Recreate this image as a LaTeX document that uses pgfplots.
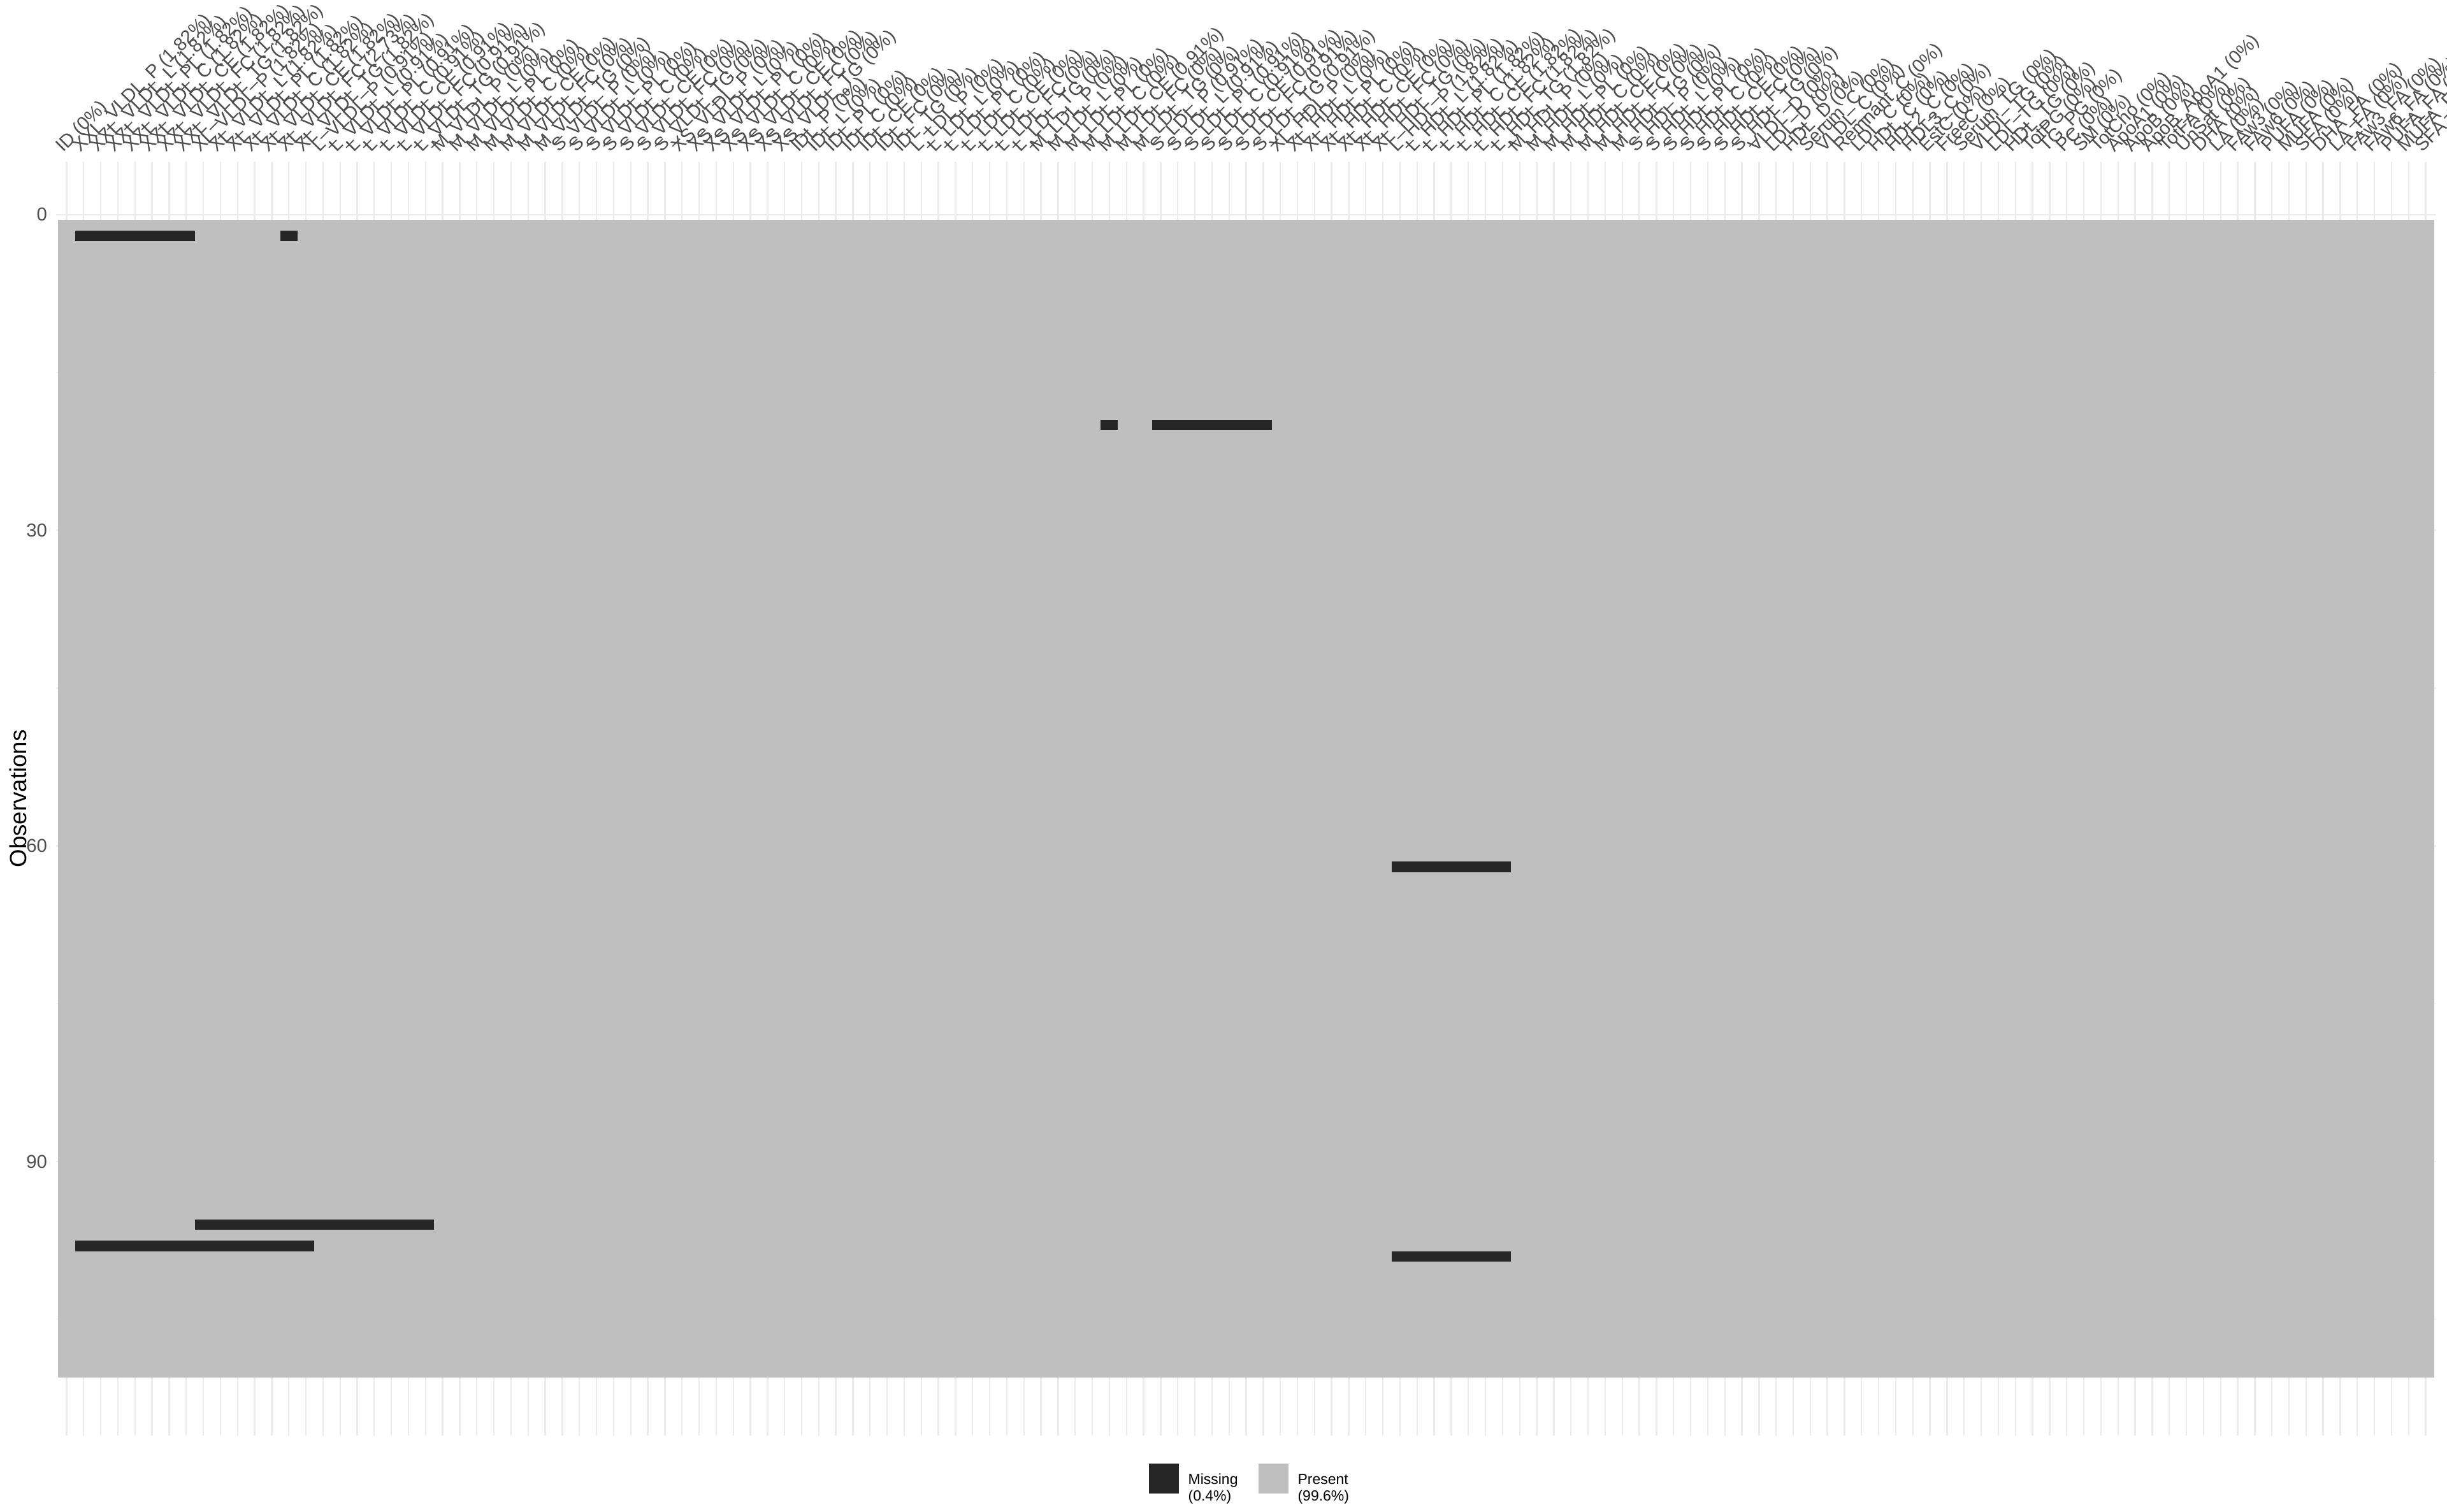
\documentclass[border=0pt]{standalone}
\usepackage{fontspec}
\setmainfont{Liberation Sans}
\usepackage{pgfplots}
\pgfplotsset{compat=1.18}
\definecolor{miss}{HTML}{262626}
\definecolor{pres}{HTML}{BFBFBF}
\definecolor{gridc}{HTML}{EBEBEB}
\definecolor{tickc}{HTML}{4D4D4D}
\begin{document}
\begin{tikzpicture}
\useasboundingbox (0,0) rectangle (1152bp,711.9bp);
\begin{axis}[
  at={(26.5bp,36.15bp)}, anchor=south west,
  scale only axis, width=1120.3bp, height=599.5bp,
  xmin=0.4, xmax=139.6, ymin=-5, ymax=116,
  y dir=reverse,
  axis line style={draw=none},
  major tick length=0pt, minor tick length=0pt,
  tick style={draw=none},
  xmajorgrids, ymajorgrids, yminorgrids,
  major grid style={draw=gridc, line width=0.7bp},
  minor grid style={draw=gridc, line width=0.35bp},
  xtick={1,...,139},
  ytick={0,30,60,90},
  minor ytick={15,45,75,105},
  xticklabel pos=right,
  /pgf/number format/assume math mode=true,
  tick label style={font=\fontsize{8.8bp}{10bp}\selectfont, text=tickc},
  xticklabel style={inner sep=0pt, xshift=-0.2bp, yshift=2.7bp, rotate=45, anchor=south west},
  yticklabel style={inner sep=0pt, anchor=east, xshift=-4.1bp},
  ylabel={Observations},
  every axis y label/.style={at={(axis description cs:0,0.5)}, xshift=-18.1bp, rotate=90, anchor=center, font=\fontsize{11bp}{13bp}\selectfont, text=black},
  xticklabels={
    ID (0\%),
    XXL\_VLDL\_P (1.82\%), XXL\_VLDL\_L (1.82\%), XXL\_VLDL\_PL (1.82\%), XXL\_VLDL\_C (1.82\%), XXL\_VLDL\_CE (1.82\%), XXL\_VLDL\_FC (1.82\%), XXL\_VLDL\_TG (1.82\%),
    XL\_VLDL\_P (1.82\%), XL\_VLDL\_L (1.82\%), XL\_VLDL\_PL (1.82\%), XL\_VLDL\_C (1.82\%), XL\_VLDL\_CE (1.82\%), XL\_VLDL\_FC (2.73\%), XL\_VLDL\_TG (1.82\%),
    L\_VLDL\_P (0.91\%), L\_VLDL\_L (0.91\%), L\_VLDL\_PL (0.91\%), L\_VLDL\_C (0.91\%), L\_VLDL\_CE (0.91\%), L\_VLDL\_FC (0.91\%), L\_VLDL\_TG (0.91\%),
    M\_VLDL\_P (0\%), M\_VLDL\_L (0\%), M\_VLDL\_PL (0\%), M\_VLDL\_C (0\%), M\_VLDL\_CE (0\%), M\_VLDL\_FC (0\%), M\_VLDL\_TG (0\%),
    S\_VLDL\_P (0\%), S\_VLDL\_L (0\%), S\_VLDL\_PL (0\%), S\_VLDL\_C (0\%), S\_VLDL\_CE (0\%), S\_VLDL\_FC (0\%), S\_VLDL\_TG (0\%),
    XS\_VLDL\_P (0\%), XS\_VLDL\_L (0\%), XS\_VLDL\_PL (0\%), XS\_VLDL\_C (0\%), XS\_VLDL\_CE (0\%), XS\_VLDL\_FC (0\%), XS\_VLDL\_TG (0\%),
    IDL\_P (0\%), IDL\_L (0\%), IDL\_PL (0\%), IDL\_C (0\%), IDL\_CE (0\%), IDL\_FC (0\%), IDL\_TG (0\%),
    L\_LDL\_P (0\%), L\_LDL\_L (0\%), L\_LDL\_PL (0\%), L\_LDL\_C (0\%), L\_LDL\_CE (0\%), L\_LDL\_FC (0\%), L\_LDL\_TG (0\%),
    M\_LDL\_P (0\%), M\_LDL\_L (0\%), M\_LDL\_PL (0\%), M\_LDL\_C (0\%), M\_LDL\_CE (0.91\%), M\_LDL\_FC (0\%), M\_LDL\_TG (0\%),
    S\_LDL\_P (0.91\%), S\_LDL\_L (0.91\%), S\_LDL\_PL (0.91\%), S\_LDL\_C (0.91\%), S\_LDL\_CE (0.91\%), S\_LDL\_FC (0.91\%), S\_LDL\_TG (0.91\%),
    XL\_HDL\_P (0\%), XL\_HDL\_L (0\%), XL\_HDL\_PL (0\%), XL\_HDL\_C (0\%), XL\_HDL\_CE (0\%), XL\_HDL\_FC (0\%), XL\_HDL\_TG (0\%),
    L\_HDL\_P (1.82\%), L\_HDL\_L (1.82\%), L\_HDL\_PL (1.82\%), L\_HDL\_C (1.82\%), L\_HDL\_CE (1.82\%), L\_HDL\_FC (1.82\%), L\_HDL\_TG (1.82\%),
    M\_HDL\_P (0\%), M\_HDL\_L (0\%), M\_HDL\_PL (0\%), M\_HDL\_C (0\%), M\_HDL\_CE (0\%), M\_HDL\_FC (0\%), M\_HDL\_TG (0\%),
    S\_HDL\_P (0\%), S\_HDL\_L (0\%), S\_HDL\_PL (0\%), S\_HDL\_C (0\%), S\_HDL\_CE (0\%), S\_HDL\_FC (0\%), S\_HDL\_TG (0\%),
    VLDL\_D (0\%), LDL\_D (0\%), HDL\_D (0\%),
    Serum\_C (0\%), VLDL\_C (0\%), Remnant\_C (0\%), LDL\_C (0\%), HDL\_C (0\%), HDL2\_C (0\%), HDL3\_C (0\%), EstC (0\%), FreeC (0\%),
    Serum\_TG (0\%), VLDL\_TG (0\%), LDL\_TG (0\%), HDL\_TG (0\%),
    TotPG (0\%), TG\_PG (0\%), PC (0\%), SM (0\%), TotCho (0\%),
    ApoA1 (0\%), ApoB (0\%), ApoB\_ApoA1 (0\%),
    TotFA (0\%), UnSat (0\%), DHA (0\%), LA (0\%), FAw3 (0\%), FAw6 (0\%), PUFA (0\%), MUFA (0\%), SFA (0\%),
    DHA\_FA (0\%), LA\_FA (0\%), FAw3\_FA (0\%), FAw6\_FA (0\%), PUFA\_FA (0\%), MUFA\_FA (0\%), SFA\_FA (0\%)
  },
  legend image code/.code={\path[#1] (0bp,-4.15bp) rectangle (14bp,9.85bp);},
  legend columns=2,
  legend cell align=left,
  legend style={at={(axis description cs:0.5012,0)}, anchor=north, yshift=-13.25bp,
    draw=none, fill=none, inner sep=0pt, column sep=4.5bp,
    /tikz/every even column/.append style={column sep=9.7bp},
    nodes={inner sep=0pt, text=black, font=\fontsize{6.9bp}{7.7bp}\selectfont}},
]
% present cells (background raster)
\addplot[fill=pres, draw=none, forget plot] coordinates {(0.5,0.5) (139.5,0.5) (139.5,110.5) (0.5,110.5)};
% missing cells: one rectangle per run of missing values
\addplot[fill=miss, draw=none, forget plot] coordinates {(1.5,1.5) (8.5,1.5) (8.5,2.5) (1.5,2.5)};
\addplot[fill=miss, draw=none, forget plot] coordinates {(13.5,1.5) (14.5,1.5) (14.5,2.5) (13.5,2.5)};
\addplot[fill=miss, draw=none, forget plot] coordinates {(61.5,19.5) (62.5,19.5) (62.5,20.5) (61.5,20.5)};
\addplot[fill=miss, draw=none, forget plot] coordinates {(64.5,19.5) (71.5,19.5) (71.5,20.5) (64.5,20.5)};
\addplot[fill=miss, draw=none, forget plot] coordinates {(78.5,61.5) (85.5,61.5) (85.5,62.5) (78.5,62.5)};
\addplot[fill=miss, draw=none, forget plot] coordinates {(8.5,95.5) (22.5,95.5) (22.5,96.5) (8.5,96.5)};
\addplot[fill=miss, draw=none, forget plot] coordinates {(1.5,97.5) (15.5,97.5) (15.5,98.5) (1.5,98.5)};
\addplot[fill=miss, draw=none, forget plot] coordinates {(78.5,98.5) (85.5,98.5) (85.5,99.5) (78.5,99.5)};
\addlegendimage{fill=miss, draw=none}
\addlegendentry{\begin{tabular}{@{}l@{}}Missing\\(0.4\%)\end{tabular}}
\addlegendimage{fill=pres, draw=none}
\addlegendentry{\begin{tabular}{@{}l@{}}Present\\(99.6\%)\end{tabular}}
\end{axis}
\end{tikzpicture}
\end{document}
